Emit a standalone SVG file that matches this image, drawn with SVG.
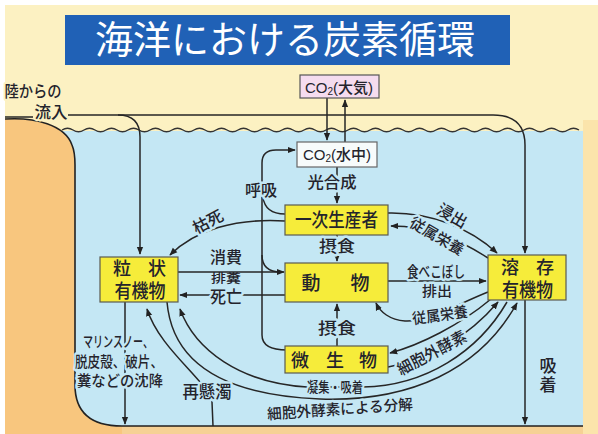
<svg xmlns="http://www.w3.org/2000/svg" width="598" height="434" viewBox="0 0 598 434">
<style>
.t{font-family:"Liberation Sans","Noto Sans CJK JP",sans-serif;font-weight:500;fill:#24242c;text-anchor:middle;dominant-baseline:central}
.h{stroke:#c4e7f4;stroke-width:5;stroke-linejoin:round;paint-order:stroke}
.hy{stroke:#fcf1c2;stroke-width:4;stroke-linejoin:round;paint-order:stroke}
.c{fill:none;stroke:#262626;stroke-width:1.5}
.a{marker-end:url(#ah)}
.box{fill:#f6ec3a;stroke:#5a5a50;stroke-width:1.2}
</style>
<defs>
<marker id="ah" viewBox="0 0 10 10" refX="9" refY="5" markerWidth="8" markerHeight="8" orient="auto" markerUnits="userSpaceOnUse">
<path d="M0,1 L10,5 L0,9 z" fill="#222"/>
</marker>
</defs>

<g id="background">
<rect width="598" height="434" fill="#ffffff"/>
<rect x="5" y="5" width="593" height="429" fill="#fcf1c2"/>
<rect x="583" y="120" width="15" height="314" fill="#fbe4ab"/>
<rect x="60" y="131" width="523" height="295" fill="#c4e7f4"/>
<path d="M5,119 C35,117 65,125 72,145 Q75,152 75,165 V385 Q75,426 122,426 H583 V434 H5 Z" fill="#f8c67e"/>
<rect x="122" y="427" width="461" height="7" fill="#f6d195"/>
<path d="M5,119 C35,117 65,125 72,145 Q75,152 75,165 V385 Q75,426 122,426 H583" fill="none" stroke="#222" stroke-width="1.6"/>
<path d="M62,130 q5.5,-3.5 11,0 t11,0 t11,0 t11,0 t11,0 t11,0 t11,0 t11,0 t11,0 t11,0 t11,0 t11,0 t11,0 t11,0 t11,0 t11,0 t11,0 t11,0 t11,0 t11,0 t11,0 t11,0 t11,0 t11,0 t11,0 t11,0 t11,0 t11,0 t11,0 t11,0 t11,0 t11,0 t11,0 t11,0 t11,0 t11,0 t11,0 t11,0 t11,0 t11,0 t11,0 t11,0 t11,0 t11,0 t11,0 t11,0 t11,0" fill="none" stroke="#333" stroke-width="1.3"/>
</g>

<g id="title">
<rect x="65" y="15" width="445" height="50" fill="#2061b6"/>
<text x="285" y="40" class="t" style="fill:#ffffff;font-weight:400" font-size="38" textLength="380" lengthAdjust="spacingAndGlyphs">海洋における炭素循環</text>
</g>

<g id="connectors">
<path class="c" d="M5,117 H33"/>
<path class="c a" d="M68,115 H493 Q525,115 525,145 V253"/>
<path class="c a" d="M118,115 Q140,115 140,137 V254"/>
<path class="c a" d="M327,98 V140"/>
<path class="c a" d="M345,142 V100"/>
<path class="c a" d="M337,167 V203"/>
<path class="c a" d="M337,235 V261"/>
<path class="c a" d="M337,346 V304"/>
<path class="c a" d="M287,350 Q262,350 262,335 V163 Q262,150 276,150 H295"/>
<path class="c" d="M285,214 Q265,214 263,197"/>
<path class="c" d="M262,255 Q262,272 281,272"/>
<path class="c a" d="M178,272 H284"/>
<path class="c a" d="M285,295 H180"/>
<path class="c a" d="M285,221 C235,218 195,230 170,255"/>
<path class="c a" d="M388,213 C430,212 470,228 497,253"/>
<path class="c a" d="M488,258 C460,240 430,226 391,226"/>
<path class="c a" d="M388,281 H486"/>
<path class="c a" d="M488,292 C455,305 430,322 405,321 C390,320 380,312 376,303"/>
<path class="c a" d="M491,299 C460,325 420,345 390,353"/>
<path class="c a" d="M388,367 C430,360 470,335 498,302"/>
<path class="c a" d="M507,302 C478,352 425,386 363,387 L307,387 C240,383 195,350 180,309"/>
<path class="c a" d="M167,302 C172,360 220,395 320,399 C410,402 480,370 517,303"/>
<path class="c a" d="M213,426 L212,402 C207,380 160,350 147,309"/>
<path class="c a" d="M125,302 V424"/>
<path class="c a" d="M525,300 V424"/>
</g>

<g id="co2-air">
<rect x="300" y="75" width="79" height="23" fill="#f5dcef" stroke="#555" stroke-width="1.2"/>
<text x="339" y="87" class="t" font-size="15">CO<tspan font-size="10" dy="4">2</tspan><tspan dy="-4">(大気)</tspan></text>
</g>

<g id="co2-water">
<rect x="297" y="142" width="80" height="25" fill="#f7fbfb" stroke="#666" stroke-width="1.2"/>
<text x="337" y="154" class="t" font-size="15">CO<tspan font-size="10" dy="4">2</tspan><tspan dy="-4">(水中)</tspan></text>
</g>

<g id="primary-producer">
<rect x="285" y="205" width="103" height="30" class="box"/>
<text x="336.5" y="220" class="t" font-size="19" textLength="83" lengthAdjust="spacingAndGlyphs">一次生産者</text>
</g>

<g id="animal">
<rect x="285" y="263" width="103" height="39" class="box"/>
<text class="t" font-size="19"><tspan x="311" y="283">動</tspan><tspan x="360" y="283">物</tspan></text>
</g>

<g id="microbe">
<rect x="285" y="346" width="103" height="27" class="box"/>
<text class="t" font-size="18"><tspan x="300" y="361">微</tspan><tspan x="335" y="361">生</tspan><tspan x="368" y="361">物</tspan></text>
</g>

<g id="poc">
<rect x="100" y="257" width="78" height="45" class="box"/>
<text class="t" font-size="18"><tspan x="122" y="269">粒</tspan><tspan x="157" y="269">状</tspan><tspan x="140" y="291" font-size="19" textLength="51" lengthAdjust="spacingAndGlyphs">有機物</tspan></text>
</g>

<g id="doc">
<rect x="488" y="255" width="78" height="45" class="box"/>
<text class="t" font-size="18"><tspan x="510" y="268">溶</tspan><tspan x="545" y="268">存</tspan><tspan x="527.5" y="290" font-size="19" textLength="51" lengthAdjust="spacingAndGlyphs">有機物</tspan></text>
</g>

<g id="labels">
<text class="t hy" font-size="16"><tspan x="33" y="91" textLength="57" lengthAdjust="spacingAndGlyphs">陸からの</tspan><tspan x="51" y="112" textLength="33" lengthAdjust="spacingAndGlyphs">流入</tspan></text>
<text x="332" y="182" class="t h" font-size="16" textLength="49" lengthAdjust="spacingAndGlyphs">光合成</text>
<text x="261" y="190" class="t h" font-size="16" textLength="32" lengthAdjust="spacingAndGlyphs">呼吸</text>
<text x="337" y="246" class="t h" font-size="16" textLength="36" lengthAdjust="spacingAndGlyphs">摂食</text>
<text x="337" y="328" class="t h" font-size="16" textLength="38" lengthAdjust="spacingAndGlyphs">摂食</text>
<text x="208" y="222" class="t h" font-size="16" transform="rotate(-28 208 222)" textLength="32" lengthAdjust="spacingAndGlyphs">枯死</text>
<text x="226" y="257" class="t h" font-size="16" textLength="32" lengthAdjust="spacingAndGlyphs">消費</text>
<text class="t" font-size="12"><tspan x="226" y="279" textLength="30" lengthAdjust="spacingAndGlyphs">排糞</tspan><tspan class="h" x="226" y="297" font-size="17" textLength="32" lengthAdjust="spacingAndGlyphs">死亡</tspan></text>
<text x="452" y="216" class="t h" font-size="16" transform="rotate(30 452 216)" textLength="32" lengthAdjust="spacingAndGlyphs">浸出</text>
<text x="437" y="236" class="t h" font-size="15" transform="rotate(30 437 236)" textLength="60" lengthAdjust="spacingAndGlyphs">従属栄養</text>
<text class="t h" font-size="15"><tspan x="436" y="271" textLength="58" lengthAdjust="spacingAndGlyphs">食べこぼし</tspan><tspan x="437" y="291" font-size="14" textLength="30" lengthAdjust="spacingAndGlyphs">排出</tspan></text>
<text x="440" y="315" class="t h" font-size="15" transform="rotate(-8 440 315)" textLength="56" lengthAdjust="spacingAndGlyphs">従属栄養</text>
<text x="432" y="353" class="t h" font-size="16" transform="rotate(-28 432 353)" textLength="76" lengthAdjust="spacingAndGlyphs">細胞外酵素</text>
<text x="335" y="387" class="t h" font-size="14" textLength="56" lengthAdjust="spacingAndGlyphs">凝集・吸着</text>
<text x="340" y="409" class="t h" font-size="15" transform="rotate(-4 340 409)" textLength="146" lengthAdjust="spacingAndGlyphs">細胞外酵素による分解</text>
<text x="207" y="392" class="t h" font-size="17" textLength="49" lengthAdjust="spacingAndGlyphs">再懸濁</text>
<text class="t h" font-size="15"><tspan x="118" y="341" textLength="70" lengthAdjust="spacingAndGlyphs">マリンスノー、</tspan><tspan x="119" y="361" textLength="88" lengthAdjust="spacingAndGlyphs">脱皮殻、破片、</tspan><tspan x="120" y="380" textLength="86" lengthAdjust="spacingAndGlyphs">糞などの沈降</tspan></text>
<text x="546" y="376" class="t h" font-size="17" writing-mode="vertical-rl" letter-spacing="2">吸着</text>
</g>
</svg>
